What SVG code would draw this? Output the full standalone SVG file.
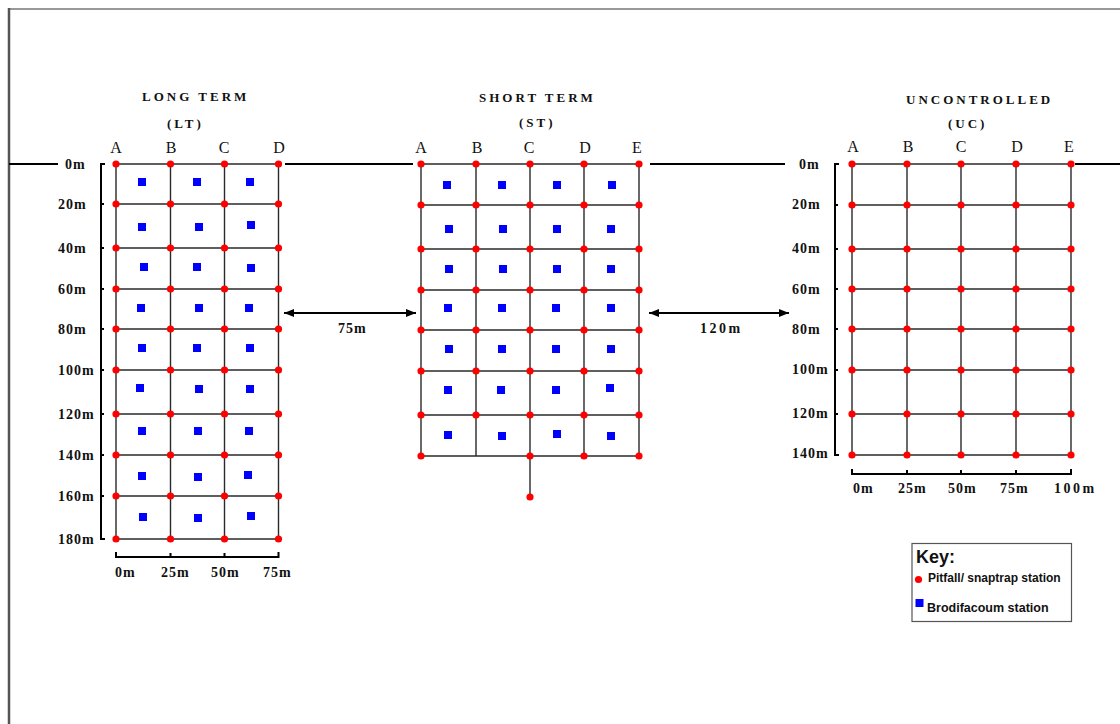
<svg xmlns="http://www.w3.org/2000/svg" xmlns:xlink="http://www.w3.org/1999/xlink" width="1120" height="724" viewBox="0 0 1120 724">
<style>
.grid{fill:none;stroke:#2a2a2a;stroke-width:1.4}
.axis{fill:none;stroke:#000;stroke-width:2}
.base{fill:none;stroke:#000;stroke-width:2}
.title{font-family:"Liberation Serif",serif;font-weight:bold;font-size:13px;letter-spacing:3px;fill:#111}
.col{font-family:"Liberation Serif",serif;font-size:16px;fill:#111}
.lab{font-family:"Liberation Serif",serif;font-weight:bold;font-size:14px;letter-spacing:1px;fill:#111}
.key{font-family:"Liberation Sans",Arial,sans-serif;font-weight:bold;fill:#111}
</style>
<defs>
<circle id="d" r="3.6" fill="#ff0000"/>
<rect id="s" x="-4" y="-4" width="8" height="8" fill="#0000ff"/>
<marker id="ah" viewBox="0 0 10 8" refX="10" refY="4" markerWidth="10" markerHeight="8" markerUnits="userSpaceOnUse" orient="auto-start-reverse"><path d="M0 0L10 4L0 8Z" fill="#000"/></marker>
</defs>
<rect width="1120" height="724" fill="#fff"/>
<g id="frame">
<line x1="9" y1="9" x2="1120" y2="9" stroke="#999" stroke-width="2"/>
<line x1="9" y1="8" x2="9" y2="724" stroke="#555" stroke-width="2.5"/>
</g>
<g id="connectors">
<path class="base" d="M9 164H58M285 164H413M650 164H785M1075 164H1120"/>
<line x1="284" y1="313" x2="416" y2="313" stroke="#000" stroke-width="2" marker-start="url(#ah)" marker-end="url(#ah)"/>
<text class="lab" x="338" y="333">75m</text>
<line x1="649" y1="313" x2="789" y2="313" stroke="#000" stroke-width="2" marker-start="url(#ah)" marker-end="url(#ah)"/>
<text class="lab" x="700" y="333" style="letter-spacing:2.5px">120m</text>
</g>
<g id="long-term">
<text class="title" x="142" y="101">LONG TERM</text>
<text class="title" x="167" y="128">(LT)</text>
<text class="col" x="116" y="153" text-anchor="middle">A</text>
<text class="col" x="171" y="153" text-anchor="middle">B</text>
<text class="col" x="224" y="153" text-anchor="middle">C</text>
<text class="col" x="279" y="153" text-anchor="middle">D</text>
<path class="grid" d="M116 164H278.5M116 204H278.5M116 248H278.5M116 289H278.5M116 329H278.5M116 370H278.5M116 414H278.5M116 455H278.5M116 496H278.5M116 539H278.5M116 164V539M170.5 164V539M224.5 164V539M278.5 164V539"/>
<path class="axis" d="M105 164H101V539H105M101 204H104M101 248H104M101 289H104M101 329H104M101 370H104M101 414H104M101 455H104M101 496H104"/>
<path class="axis" d="M116 552V557H278.5V552M170.5 557V553M224.5 557V553"/>
<g class="lab">
<text x="65" y="169">0m</text><text x="58" y="209">20m</text><text x="58" y="253">40m</text><text x="58" y="294">60m</text><text x="58" y="334">80m</text><text x="58" y="375">100m</text><text x="58" y="419">120m</text><text x="58" y="460">140m</text><text x="58" y="501">160m</text><text x="58" y="544">180m</text>
<text x="115" y="577">0m</text><text x="161" y="577">25m</text><text x="211" y="577">50m</text><text x="263" y="577">75m</text>
</g>
<g>
<use href="#d" x="116" y="164"/><use href="#d" x="170.5" y="164"/><use href="#d" x="224.5" y="164"/><use href="#d" x="278.5" y="164"/>
<use href="#d" x="116" y="204"/><use href="#d" x="170.5" y="204"/><use href="#d" x="224.5" y="204"/><use href="#d" x="278.5" y="204"/>
<use href="#d" x="116" y="248"/><use href="#d" x="170.5" y="248"/><use href="#d" x="224.5" y="248"/><use href="#d" x="278.5" y="248"/>
<use href="#d" x="116" y="289"/><use href="#d" x="170.5" y="289"/><use href="#d" x="224.5" y="289"/><use href="#d" x="278.5" y="289"/>
<use href="#d" x="116" y="329"/><use href="#d" x="170.5" y="329"/><use href="#d" x="224.5" y="329"/><use href="#d" x="278.5" y="329"/>
<use href="#d" x="116" y="370"/><use href="#d" x="170.5" y="370"/><use href="#d" x="224.5" y="370"/><use href="#d" x="278.5" y="370"/>
<use href="#d" x="116" y="414"/><use href="#d" x="170.5" y="414"/><use href="#d" x="224.5" y="414"/><use href="#d" x="278.5" y="414"/>
<use href="#d" x="116" y="455"/><use href="#d" x="170.5" y="455"/><use href="#d" x="224.5" y="455"/><use href="#d" x="278.5" y="455"/>
<use href="#d" x="116" y="496"/><use href="#d" x="170.5" y="496"/><use href="#d" x="224.5" y="496"/><use href="#d" x="278.5" y="496"/>
<use href="#d" x="116" y="539"/><use href="#d" x="170.5" y="539"/><use href="#d" x="224.5" y="539"/><use href="#d" x="278.5" y="539"/>
</g>
<g>
<use href="#s" x="142" y="182"/><use href="#s" x="197" y="182"/><use href="#s" x="250" y="182"/>
<use href="#s" x="142" y="227"/><use href="#s" x="199" y="227"/><use href="#s" x="251" y="225"/>
<use href="#s" x="144" y="267"/><use href="#s" x="197" y="267"/><use href="#s" x="251" y="268"/>
<use href="#s" x="141" y="308"/><use href="#s" x="199" y="308"/><use href="#s" x="249" y="308"/>
<use href="#s" x="142" y="348"/><use href="#s" x="197" y="348"/><use href="#s" x="250" y="348"/>
<use href="#s" x="140" y="388"/><use href="#s" x="199" y="389"/><use href="#s" x="250" y="389"/>
<use href="#s" x="142" y="431"/><use href="#s" x="198" y="431"/><use href="#s" x="249" y="431"/>
<use href="#s" x="142" y="476"/><use href="#s" x="198" y="477"/><use href="#s" x="248" y="475"/>
<use href="#s" x="143" y="517"/><use href="#s" x="198" y="518"/><use href="#s" x="251" y="516"/>
</g>
</g>
<g id="short-term">
<text class="title" x="479" y="102">SHORT TERM</text>
<text class="title" x="519" y="127">(ST)</text>
<text class="col" x="421" y="153" text-anchor="middle">A</text>
<text class="col" x="477" y="153" text-anchor="middle">B</text>
<text class="col" x="529" y="153" text-anchor="middle">C</text>
<text class="col" x="585" y="153" text-anchor="middle">D</text>
<text class="col" x="637" y="153" text-anchor="middle">E</text>
<path class="grid" d="M421 164H639M421 205H639M421 249H639M421 290H639M421 330H639M421 371H639M421 415H639M421 456H639M421 164V456M476 164V456M530 164V497M584 164V456M639 164V456"/>
<g>
<use href="#d" x="421" y="164"/><use href="#d" x="476" y="164"/><use href="#d" x="530" y="164"/><use href="#d" x="584" y="164"/><use href="#d" x="639" y="164"/>
<use href="#d" x="421" y="205"/><use href="#d" x="476" y="205"/><use href="#d" x="530" y="205"/><use href="#d" x="584" y="205"/><use href="#d" x="639" y="205"/>
<use href="#d" x="421" y="249"/><use href="#d" x="476" y="249"/><use href="#d" x="530" y="249"/><use href="#d" x="584" y="249"/><use href="#d" x="639" y="249"/>
<use href="#d" x="421" y="290"/><use href="#d" x="476" y="290"/><use href="#d" x="530" y="290"/><use href="#d" x="584" y="290"/><use href="#d" x="639" y="290"/>
<use href="#d" x="421" y="330"/><use href="#d" x="476" y="330"/><use href="#d" x="530" y="330"/><use href="#d" x="584" y="330"/><use href="#d" x="639" y="330"/>
<use href="#d" x="421" y="371"/><use href="#d" x="476" y="371"/><use href="#d" x="530" y="371"/><use href="#d" x="584" y="371"/><use href="#d" x="639" y="371"/>
<use href="#d" x="421" y="415"/><use href="#d" x="476" y="415"/><use href="#d" x="530" y="415"/><use href="#d" x="584" y="415"/><use href="#d" x="639" y="415"/>
<use href="#d" x="421" y="456"/><use href="#d" x="530" y="456"/><use href="#d" x="584" y="456"/><use href="#d" x="639" y="456"/>
<use href="#d" x="530" y="497"/>
</g>
<g>
<use href="#s" x="447" y="185"/><use href="#s" x="502" y="185"/><use href="#s" x="557" y="185"/><use href="#s" x="612" y="185"/>
<use href="#s" x="449" y="229"/><use href="#s" x="503" y="229"/><use href="#s" x="557" y="229"/><use href="#s" x="611" y="229"/>
<use href="#s" x="449" y="269"/><use href="#s" x="503" y="269"/><use href="#s" x="557" y="269"/><use href="#s" x="611" y="269"/>
<use href="#s" x="448" y="308"/><use href="#s" x="502" y="308"/><use href="#s" x="556" y="308"/><use href="#s" x="611" y="308"/>
<use href="#s" x="449" y="349"/><use href="#s" x="502" y="349"/><use href="#s" x="556" y="349"/><use href="#s" x="611" y="349"/>
<use href="#s" x="448" y="390"/><use href="#s" x="501" y="390"/><use href="#s" x="556" y="390"/><use href="#s" x="610" y="388"/>
<use href="#s" x="448" y="435"/><use href="#s" x="502" y="436"/><use href="#s" x="557" y="434"/><use href="#s" x="611" y="436"/>
</g>
</g>
<g id="uncontrolled">
<text class="title" x="906" y="104">UNCONTROLLED</text>
<text class="title" x="948" y="128">(UC)</text>
<text class="col" x="853" y="152" text-anchor="middle">A</text>
<text class="col" x="908" y="152" text-anchor="middle">B</text>
<text class="col" x="961" y="152" text-anchor="middle">C</text>
<text class="col" x="1017" y="152" text-anchor="middle">D</text>
<text class="col" x="1069" y="152" text-anchor="middle">E</text>
<path class="grid" d="M852 164H1071M852 205H1071M852 249H1071M852 289H1071M852 329H1071M852 370H1071M852 414H1071M852 455H1071M852 164V455M907 164V455M961 164V455M1016 164V455M1071 164V455"/>
<path class="axis" d="M839 164H835V455H839M835 205H838M835 249H838M835 289H838M835 329H838M835 370H838M835 414H838"/>
<path class="axis" d="M852 469V474H1071V469M907 474V470M961 474V470M1016 474V470"/>
<g class="lab">
<text x="799" y="169">0m</text><text x="792" y="209">20m</text><text x="792" y="253">40m</text><text x="792" y="294">60m</text><text x="792" y="334">80m</text><text x="792" y="374">100m</text><text x="792" y="418">120m</text><text x="792" y="458">140m</text>
<text x="853" y="493">0m</text><text x="898" y="493">25m</text><text x="948" y="493">50m</text><text x="1000" y="493">75m</text><text x="1054" y="493" style="letter-spacing:2.5px">100m</text>
</g>
<g>
<use href="#d" x="852" y="164"/><use href="#d" x="907" y="164"/><use href="#d" x="961" y="164"/><use href="#d" x="1016" y="164"/><use href="#d" x="1071" y="164"/>
<use href="#d" x="852" y="205"/><use href="#d" x="907" y="205"/><use href="#d" x="961" y="205"/><use href="#d" x="1016" y="205"/><use href="#d" x="1071" y="205"/>
<use href="#d" x="852" y="249"/><use href="#d" x="907" y="249"/><use href="#d" x="961" y="249"/><use href="#d" x="1016" y="249"/><use href="#d" x="1071" y="249"/>
<use href="#d" x="852" y="289"/><use href="#d" x="907" y="289"/><use href="#d" x="961" y="289"/><use href="#d" x="1016" y="289"/><use href="#d" x="1071" y="289"/>
<use href="#d" x="852" y="329"/><use href="#d" x="907" y="329"/><use href="#d" x="961" y="329"/><use href="#d" x="1016" y="329"/><use href="#d" x="1071" y="329"/>
<use href="#d" x="852" y="370"/><use href="#d" x="907" y="370"/><use href="#d" x="961" y="370"/><use href="#d" x="1016" y="370"/><use href="#d" x="1071" y="370"/>
<use href="#d" x="852" y="414"/><use href="#d" x="907" y="414"/><use href="#d" x="961" y="414"/><use href="#d" x="1016" y="414"/><use href="#d" x="1071" y="414"/>
<use href="#d" x="852" y="455"/><use href="#d" x="907" y="455"/><use href="#d" x="961" y="455"/><use href="#d" x="1016" y="455"/><use href="#d" x="1071" y="455"/>
</g>
</g>
<g id="key">
<rect x="912" y="543.5" width="159.5" height="78" fill="#fff" stroke="#555" stroke-width="1.2"/>
<text class="key" x="916" y="563" font-size="18">Key:</text>
<use href="#d" x="918.5" y="579.5"/>
<text class="key" x="928" y="582" font-size="12">Pitfall/ snaptrap station</text>
<use href="#s" x="919.5" y="603"/>
<text class="key" x="927" y="612" font-size="12.5">Brodifacoum station</text>
</g>
</svg>
